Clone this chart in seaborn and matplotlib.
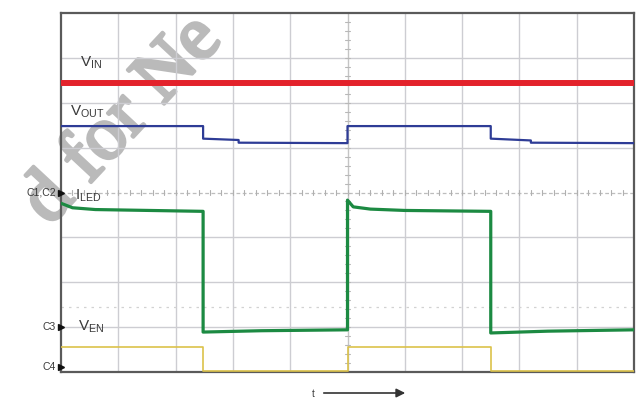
import numpy as np
import pandas as pd
import matplotlib
matplotlib.use("Agg")
import matplotlib.pyplot as plt
import matplotlib.patheffects as pe
import seaborn as sns

sns.set_theme(style="white")
plt.rcParams["font.family"] = ["Liberation Sans", "DejaVu Sans"]
plt.rcParams["mathtext.fontset"] = "custom"
plt.rcParams["mathtext.rm"] = "Liberation Sans"

# Screen geometry in divisions
n_xdiv, n_ydiv = 10, 8

# Waveforms: time (div) and level (div above the bottom graticule line)
vin_t = [0.0, 10.0]
vin_v = [6.44, 6.44]

vout_t = [0.0, 2.48, 2.48, 3.1, 3.1, 5.0, 5.0, 7.5, 7.5, 8.2, 8.2, 10.0]
vout_v = [5.48, 5.48, 5.20, 5.17, 5.11, 5.10, 5.48, 5.48, 5.20, 5.16, 5.11, 5.10]

iled_t = [0.0, 0.2, 0.6, 2.48, 2.48, 3.5, 5.0, 5.0, 5.1, 5.4, 6.0, 7.5, 7.5, 8.5, 10.0]
iled_v = [3.76, 3.66, 3.62, 3.58, 0.89, 0.92, 0.94, 3.83, 3.68, 3.63, 3.60, 3.58, 0.87, 0.91, 0.94]

ven_t = [0.0, 2.48, 2.48, 5.0, 5.0, 7.5, 7.5, 10.0]
ven_v = [0.56, 0.56, 0.03, 0.03, 0.56, 0.56, 0.03, 0.03]

channels = [
    ("VIN", vin_t, vin_v, "#e3222b", 4.3),
    ("VOUT", vout_t, vout_v, "#2e3c96", 1.6),
    ("ILED", iled_t, iled_v, "#1c8a42", 2.3),
    ("VEN", ven_t, ven_v, "#dcc24a", 1.2),
]

fig = plt.figure(figsize=(6.37, 4.01), dpi=100)
ax = fig.add_axes([61 / 637, 1 - 372 / 401, 573 / 637, 359 / 401])
ax.set_xlim(0, n_xdiv)
ax.set_ylim(0, n_ydiv)

# Graticule
grid_c = "#cdcdd2"
for gx in range(1, n_xdiv):
    if gx == n_xdiv // 2:
        continue
    ax.axvline(gx, color=grid_c, lw=1.0, zorder=1)
for gy in range(1, n_ydiv):
    if gy == n_ydiv // 2:
        continue
    ax.axhline(gy, color=grid_c, lw=1.0, zorder=1)

# Centre lines with minor ticks
ax.axhline(n_ydiv / 2, color="#bdbdbd", lw=0.9, ls=(0, (3, 2)), zorder=1)
ax.axvline(n_xdiv / 2, color="#c4c4c4", lw=1.0, zorder=1)
for tx in np.arange(0.2, n_xdiv, 0.2):
    ax.plot([tx, tx], [n_ydiv / 2 - 0.05, n_ydiv / 2 + 0.05], color="#b0b0b0", lw=0.8, zorder=1)
for ty in np.arange(0.2, n_ydiv, 0.2):
    ax.plot([n_xdiv / 2 - 0.04, n_xdiv / 2 + 0.04], [ty, ty], color="#b8b8b8", lw=0.8, zorder=1)
# Reference level line
ax.axhline(1.45, color="#d2d2d2", lw=0.9, ls=(0, (2, 4)), zorder=1)

# Watermark, drawn beneath the (transparent) axes
fig.text(123 / 637, 1 - 121 / 401, "d for Ne", rotation=47, rotation_mode="anchor",
         ha="center", va="center", fontsize=55, color="#bababa",
         family=["Liberation Serif", "DejaVu Serif"], zorder=-1,
         path_effects=[pe.withStroke(linewidth=2.5, foreground="#bababa")])

# Traces
for name, t, v, col, lw in channels:
    df = pd.DataFrame({"t": t, "v": v})
    sns.lineplot(data=df, x="t", y="v", ax=ax, color=col, lw=lw,
                 sort=False, estimator=None, zorder=3)

ax.set_facecolor("none")
fig.patch.set_facecolor("white")
ax.set_xlabel("")
ax.set_ylabel("")
ax.set_xticks([])
ax.set_yticks([])
for s in ax.spines.values():
    s.set_color("#5a5a5a")
    s.set_linewidth(1.6)

# Trace labels
lab_c = "#3a3a3a"
ax.text(0.33, 6.9, r"V$_{\mathregular{IN}}$", fontsize=11, color=lab_c, va="center", zorder=4)
ax.text(0.15, 5.8, r"V$_{\mathregular{OUT}}$", fontsize=11, color=lab_c, va="center", zorder=4)
ax.text(0.24, 3.92, r"I$_{\mathregular{LED}}$", fontsize=11, color=lab_c, va="center", zorder=4)
ax.text(0.30, 1.0, r"V$_{\mathregular{EN}}$", fontsize=11, color=lab_c, va="center", zorder=4)

# Channel ground markers on the left edge
markers = [("C1,C2", 4.0), ("C3", 1.0), ("C4", 0.12)]
for txt, yv in markers:
    ax.plot([0.0], [yv], marker=">", ms=5, color="#111111", clip_on=False, zorder=5)
    ax.text(-0.09, yv, txt, fontsize=7.5, color=lab_c, ha="right", va="center", clip_on=False)

# Time arrow
fig.text(313 / 637, 1 - 394 / 401, "t", fontsize=7, color=lab_c, ha="center", va="center")
fig.add_artist(matplotlib.patches.FancyArrowPatch(
    (321 / 637, 1 - 393 / 401), (408 / 637, 1 - 393 / 401),
    transform=fig.transFigure, arrowstyle="-|>", mutation_scale=13,
    color="#333333", lw=1.2))

fig.savefig("out.png", dpi=100, facecolor="white")
